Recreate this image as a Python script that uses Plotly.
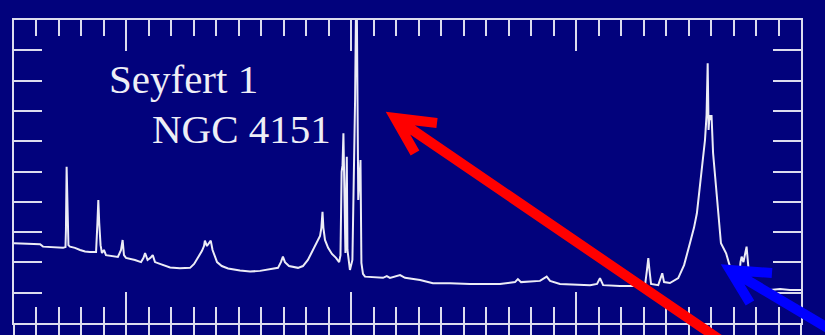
import plotly.graph_objects as go

# Spectrum of NGC 4151 (wavelength in Angstrom, relative flux)
wavelength = [3500, 3616, 3629, 3718, 3729, 3731, 3734, 3738, 3742, 3749,
              3771, 3794, 3816, 3838, 3865, 3871, 3875, 3879, 3885, 3891,
              3900, 3909, 3936, 3962, 3976, 3983, 3989, 3998, 4038, 4065,
              4076, 4083, 4094, 4107, 4117, 4127, 4149, 4172, 4194, 4238,
              4283, 4301, 4318, 4336, 4345, 4349, 4358, 4367, 4375, 4383,
              4403, 4424, 4452, 4505, 4550, 4594, 4638, 4674, 4687, 4696,
              4705, 4723, 4763, 4785, 4807, 4830, 4847, 4861, 4867, 4872,
              4876, 4883, 4897, 4914, 4932, 4946, 4952, 4957, 4961, 4965,
              4970, 4974, 4980, 4983, 4994, 5005, 5017, 5023, 5031, 5041,
              5045, 5052, 5061, 5106, 5141, 5158, 5172, 5217, 5239, 5306,
              5363, 5439, 5528, 5661, 5728, 5741, 5755, 5839, 5869, 5884,
              5928, 6062, 6093, 6106, 6120, 6195, 6306, 6315, 6321, 6326,
              6333, 6365, 6378, 6383, 6391, 6417, 6454, 6480, 6506, 6524,
              6537, 6551, 6564, 6573, 6580, 6585, 6589, 6593, 6598, 6602,
              6609, 6622, 6636, 6644, 6667, 6684, 6707, 6725, 6731, 6736,
              6744, 6751, 6758, 6764, 6773, 6818, 6862, 6907, 6951, 7000]
flux = [2.63, 2.60, 2.52, 2.48, 2.51, 3.07, 5.16, 3.07, 2.57, 2.52,
        2.48, 2.41, 2.36, 2.34, 2.34, 3.30, 4.06, 3.30, 2.57, 2.31,
        2.41, 2.24, 2.21, 2.18, 2.41, 2.74, 2.24, 2.15, 2.08, 2.01,
        2.15, 2.31, 2.08, 2.15, 2.24, 2.01, 1.95, 1.88, 1.83, 1.81,
        1.82, 1.95, 2.15, 2.38, 2.54, 2.72, 2.54, 2.64, 2.72, 2.41,
        2.01, 1.88, 1.80, 1.73, 1.70, 1.72, 1.77, 1.82, 2.01, 2.19,
        2.01, 1.88, 1.82, 1.88, 2.08, 2.41, 2.64, 2.87, 3.14, 3.67,
        3.14, 2.74, 2.48, 2.28, 2.15, 2.01, 2.24, 4.99, 5.21, 6.26,
        4.06, 2.31, 5.49, 2.41, 1.75, 2.08, 7.42, 12.0, 4.06, 5.38,
        1.98, 1.62, 1.53, 1.50, 1.49, 1.55, 1.49, 1.58, 1.49, 1.42,
        1.31, 1.31, 1.29, 1.29, 1.35, 1.45, 1.35, 1.39, 1.53, 1.39,
        1.29, 1.25, 1.29, 1.48, 1.25, 1.22, 1.22, 1.75, 2.14, 1.75,
        1.29, 1.25, 1.49, 1.64, 1.35, 1.32, 1.48, 1.91, 2.63, 3.14,
        3.62, 4.50, 5.27, 6.04, 6.86, 8.57, 6.37, 6.86, 6.70, 6.86,
        5.61, 4.50, 3.18, 2.63, 2.30, 1.86, 1.58, 1.52, 2.01, 2.19,
        2.01, 2.31, 2.52, 2.01, 1.25, 1.14, 1.09, 1.12, 1.09, 1.09]

title_lines = ["Seyfert\u00a01", "NGC 4151"]

# Overlay arrows, in figure pixels (tail, tip, arm1, arm2)
W, H = 825, 335
ML, MR, MT, MB = 14, 24, 20, 12
red_arrow = [(732, 348), (395, 118), (437, 123), (415, 153)]
blue_arrow = [(870, 353), (730, 270), (772, 273), (750, 303)]

BG = "#02027c"
FG = "#dcdcee"


def to_paper(p):
    x, y = p
    pw = W - ML - MR
    ph = H - MT - MB
    return ((x - ML) / pw, (H - MB - y) / ph)


def arrow_path(pts):
    tail, tip, a1, a2 = [to_paper(p) for p in pts]
    return (f"M{tail[0]},{tail[1]} L{tip[0]},{tip[1]} "
            f"M{a1[0]},{a1[1]} L{tip[0]},{tip[1]} L{a2[0]},{a2[1]}")


fig = go.Figure()
fig.add_trace(go.Scatter(x=wavelength, y=flux, mode="lines",
                         line=dict(color="#ececf6", width=2),
                         hoverinfo="skip", showlegend=False))

common = dict(showgrid=False, zeroline=False, showticklabels=False,
              automargin=False, tickwidth=2, tickcolor=FG, tick0=0)

fig.update_layout(
    template="none",
    width=W, height=H,
    margin=dict(l=ML, r=MR, t=MT, b=MB, pad=0, autoexpand=False),
    paper_bgcolor=BG, plot_bgcolor=BG,
    showlegend=False,
    xaxis=dict(range=[3500, 7000], showline=True, linecolor=FG, linewidth=2,
               mirror="allticks", ticks="inside", ticklen=31, dtick=1000,
               minor=dict(ticks="inside", ticklen=16, tickwidth=2,
                          tickcolor=FG, dtick=100, tick0=0, showgrid=False),
               **common),
    xaxis2=dict(range=[3500, 7000], overlaying="x", anchor="y", side="bottom",
                showline=False, ticks="outside", ticklen=14, dtick=1000,
                minor=dict(ticks="outside", ticklen=14, tickwidth=2,
                           tickcolor=FG, dtick=100, tick0=0, showgrid=False),
                **common),
    yaxis=dict(range=[0, 10], showline=True, linecolor=FG, linewidth=2,
               mirror="allticks", ticks="inside", ticklen=28, dtick=2,
               minor=dict(ticks="inside", ticklen=14, tickwidth=2,
                          tickcolor=FG, dtick=1, tick0=0, showgrid=False),
               **common),
)

# invisible trace to activate xaxis2
fig.add_trace(go.Scatter(x=[3500], y=[0], xaxis="x2", mode="markers",
                         marker=dict(opacity=0), hoverinfo="skip",
                         showlegend=False))

text_pos = [(107, 79), (150, 129)]
for txt, (px, py) in zip(title_lines, text_pos):
    xp, yp = to_paper((px, py))
    fig.add_annotation(x=xp, y=yp, xref="paper", yref="paper", text=txt,
                       showarrow=False, xanchor="left", yanchor="middle",
                       font=dict(family="Liberation Serif", size=41,
                                 color="#eeeef6"))

fig.add_shape(type="path", xref="paper", yref="paper",
              path=arrow_path(red_arrow),
              line=dict(color="#ff0000", width=10))
fig.add_shape(type="path", xref="paper", yref="paper",
              path=arrow_path(blue_arrow),
              line=dict(color="#0000ff", width=10))

fig.write_html("out.html")
